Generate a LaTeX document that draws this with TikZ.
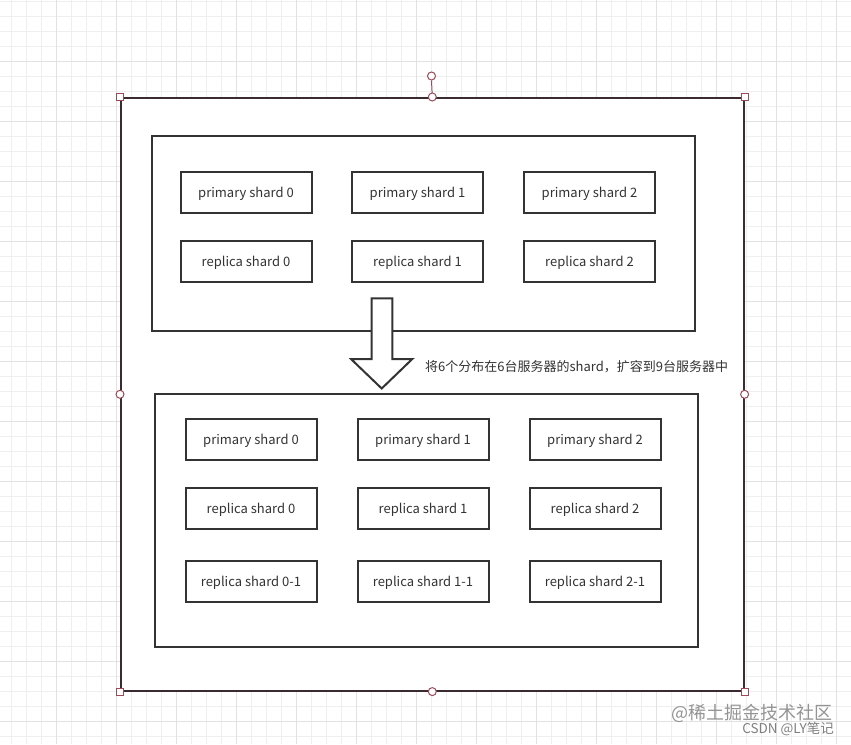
\documentclass[tikz,border=0pt]{standalone}
\usepackage{fontspec}
\setmainfont{Noto Sans CJK SC}
\newfontfamily\cjk{Noto Sans CJK SC}
\begin{document}
\begin{tikzpicture}[x=1pt,y=-1pt,
  shardbox/.style={draw=boxline,line width=2pt,fill=white,minimum width=131pt,minimum height=41pt,inner sep=0pt,text height=11pt,text depth=0pt,font=\fontsize{13}{15}\selectfont,text=txt},
  groupbox/.style={draw=boxline,line width=2pt,fill=white},
  sqhandle/.style={draw=handle,line width=1pt,fill=white,minimum size=7pt,inner sep=0pt},
  cirhandle/.style={draw=handle,line width=1pt,fill=white,circle,minimum size=8pt,inner sep=0pt},
  minorgrid/.style={draw=gridminor,line width=0.8pt},
  majorgrid/.style={draw=gridmajor,line width=1pt}]
\definecolor{boxline}{HTML}{333333}
\definecolor{txt}{HTML}{333333}
\definecolor{outerline}{HTML}{3B2A30}
\definecolor{handle}{HTML}{9A4A58}
\definecolor{gridminor}{HTML}{EFEFEF}
\definecolor{gridmajor}{HTML}{E2E2E2}
\useasboundingbox (0,0) rectangle (851,744);
\fill[white] (0,0) rectangle (851,744);
% grid
\foreach \x in {11.7,26.7,...,851} \draw[minorgrid] (\x,0) -- (\x,744);
\foreach \y in {1.7,16.7,...,744} \draw[minorgrid] (0,\y) -- (851,\y);
\foreach \x in {56.7,116.7,...,851} \draw[majorgrid] (\x,0) -- (\x,744);
\foreach \y in {61.7,121.7,...,744} \draw[majorgrid] (0,\y) -- (851,\y);
% outer selected box
\node[draw=outerline,line width=1.6pt,fill=white,minimum width=623pt,minimum height=593pt,inner sep=0pt,anchor=north west] (outer) at (120,97) {};
% rotation handle
\node[cirhandle] (rot) at (431.5,76) {};
\draw[handle,line width=1pt] (rot.south) -- (outer.north);
% handles
\node[sqhandle] (h1) at (outer.north west) {};
\node[sqhandle] (h2) at (outer.north east) {};
\node[sqhandle] (h3) at (outer.south west) {};
\node[sqhandle] (h4) at (outer.south east) {};
\node[cirhandle] (h5) at (outer.north) {};
\node[cirhandle] (h6) at (outer.south) {};
\node[cirhandle] (h7) at (outer.west) {};
\node[cirhandle] (h8) at (outer.east) {};
% group 1
\node[groupbox,minimum width=543pt,minimum height=195pt,inner sep=0pt,anchor=north west] (g1) at (151,135) {};
\node[shardbox] (p0) at (246,192) {primary shard 0};
\node[shardbox] (p1) at (417.5,192) {primary shard 1};
\node[shardbox] (p2) at (589.5,192) {primary shard 2};
\node[shardbox] (r0) at (246,261) {replica shard 0};
\node[shardbox] (r1) at (417.5,261) {replica shard 1};
\node[shardbox] (r2) at (589.5,261) {replica shard 2};
% group 2
\node[groupbox,minimum width=543pt,minimum height=253pt,inner sep=0pt,anchor=north west] (g2) at (154,393) {};
\node[shardbox] (q0) at (251,439) {primary shard 0};
\node[shardbox] (q1) at (423,439) {primary shard 1};
\node[shardbox] (q2) at (595,439) {primary shard 2};
\node[shardbox] (s0) at (251,508) {replica shard 0};
\node[shardbox] (s1) at (423,508) {replica shard 1};
\node[shardbox] (s2) at (595,508) {replica shard 2};
\node[shardbox] (t0) at (251,581) {replica shard 0-1};
\node[shardbox] (t1) at (423,581) {replica shard 1-1};
\node[shardbox] (t2) at (595,581) {replica shard 2-1};
% arrow
\draw[draw=boxline,line width=2pt,fill=white,line join=miter] (371.7,298.3) -- (392.3,298.3) -- (392.3,359) -- (412.3,359) -- (381.7,388.5) -- (351,359) -- (371.7,359) -- cycle;
\coordinate (arrowtip) at (381.7,388.5);
\node[anchor=west,inner sep=0pt,text=txt,font=\cjk\fontsize{13}{15}\selectfont] (label) at (425,367) {将6个分布在6台服务器的shard，扩容到9台服务器中};
% watermarks
\node[anchor=east,inner sep=0pt,text=black!42,font=\cjk\fontsize{18}{20}\selectfont] (wm1) at (833,713) {@稀土掘金技术社区};
\node[anchor=east,inner sep=0pt,text=black!50,font=\cjk\fontsize{13.5}{15}\selectfont] (wm2) at (834,729) {CSDN @LY笔记};
\end{tikzpicture}
\end{document}
